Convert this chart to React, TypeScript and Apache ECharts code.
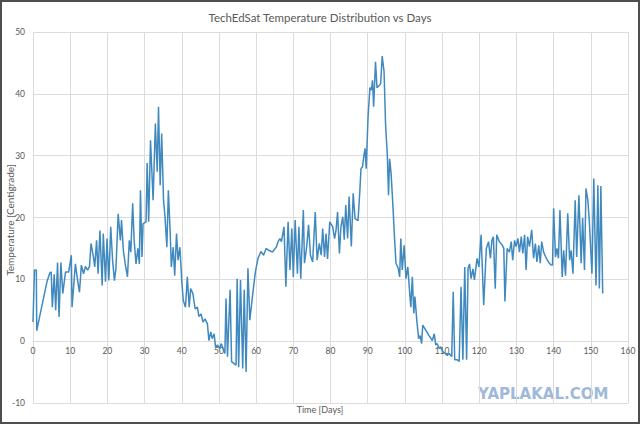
import React, { useEffect, useRef } from "react";
import * as echarts from "echarts";

const titleText = "TechEdSat Temperature Distribution vs Days";
const xAxisName = "Time [Days]";
const yAxisName = "Temperature [Centigrade]";
const watermark = "YAPLAKAL.COM";

const days: number[] = [
  0, 0.4, 0.9, 1.0, 3.75, 4.5, 4.9, 5.2, 5.7, 6.1, 6.6, 7.0, 7.5, 8.0, 8.75, 9.6, 10.3, 10.5, 11.4, 12.0,
  12.5, 13.0, 13.6, 14.1, 14.7, 15.2, 15.6, 16.25, 16.6, 17.1, 17.5, 18.0, 18.6, 18.9, 19.5, 19.9, 20.4, 20.9, 21.4, 21.9,
  22.3, 22.9, 23.5, 23.8, 24.3, 24.8, 25.4, 25.9, 26.3, 26.8, 27.2, 27.7, 28.2, 28.6, 28.9, 29.3, 29.6, 30.4, 30.7, 31.1,
  31.6, 32.3, 32.9, 33.4, 33.75, 34.2, 34.6, 35.1, 35.5, 36.0, 36.4, 36.9, 37.2, 37.7, 38.1, 38.6, 39.0, 39.5, 40.0, 40.4,
  41.0, 41.5, 42.0, 42.4, 43.0, 43.6, 44.2, 44.6, 45.2, 45.7, 46.25, 46.9, 47.3, 47.8, 48.2, 48.7, 49.1, 49.6, 50.2, 50.6,
  51.0, 51.3, 51.6, 51.9, 52.3, 53.0, 53.4, 54.0, 54.6, 54.9, 55.3, 55.8, 56.4, 56.8, 57.3, 57.8, 58.3, 59.1, 59.8, 60.5,
  61.3, 62.0, 62.7, 63.4, 64.4, 65.5, 65.9, 66.4, 66.8, 67.5, 68.0, 68.6, 69.1, 69.6, 70.0, 70.5, 71.1, 71.5, 72.0, 72.7,
  73.0, 73.6, 74.1, 74.6, 75.2, 75.9, 76.4, 77.0, 77.5, 77.9, 78.4, 78.8, 79.2, 79.8, 80.6, 81.1, 81.5, 81.9, 82.4, 82.8,
  83.3, 83.7, 84.1, 84.6, 85.0, 85.6, 86.1, 86.6, 87.4, 87.9, 88.2, 88.6, 89.0, 89.3, 89.6, 90.1, 90.6, 91.0, 91.3, 91.6,
  92.1, 92.5, 93.2, 93.5, 93.9, 94.4, 94.8, 95.3, 95.6, 95.9, 96.3, 96.8, 97.2, 97.6, 98.2, 98.6, 98.9, 99.3, 99.8, 100.3,
  100.8, 101.3, 101.6, 102.0, 102.4, 102.7, 103.2, 103.7, 104.1, 104.5, 104.8, 105.6, 106.5, 107.4, 107.9, 108.3, 108.7, 109.2, 109.6, 110.1,
  110.8, 111.4, 111.9, 112.6, 113.0, 113.4, 114.1, 114.6, 115.1, 115.6, 116.1, 116.6, 117.0, 117.4, 117.8, 118.3, 118.7, 119.4, 119.9, 120.5,
  121.2, 121.9, 122.5, 123.0, 123.4, 123.8, 124.3, 124.7, 125.4, 126.2, 126.6, 126.9, 127.5, 128.1, 128.6, 129.0, 129.5, 129.9, 130.4, 130.8,
  131.3, 131.7, 132.2, 132.6, 133.0, 133.5, 134.1, 134.6, 135.1, 135.5, 136.0, 136.4, 136.8, 137.3, 137.9, 138.6, 139.3, 139.7, 140.0, 140.5,
  140.9, 141.3, 141.7, 142.3, 142.7, 143.2, 143.8, 144.3, 144.7, 145.2, 145.8, 146.2, 146.8, 147.4, 147.8, 148.3, 148.7, 149.2, 149.6, 150.3,
  150.8, 151.4, 151.9, 152.3, 152.7, 153.2,
];

const temps: number[] = [
  3.1, 11.5, 11.5, 1.7, 9.6, 11, 11.2, 5.5, 10.8, 5, 12.7, 3.9, 12.7, 7.7, 11.2, 11.2, 13.9, 5.5, 12.5, 9.8,
  7.9, 12.3, 10.9, 12.1, 11.5, 12.1, 15.8, 13.6, 12, 16.3, 10.9, 17.9, 9, 17.4, 9.6, 16.6, 9.8, 18.5, 13.1, 9.8,
  11.7, 20.6, 16.3, 19.6, 14.7, 12.5, 10.4, 16.3, 14.4, 22.3, 16.3, 12.5, 15, 12.5, 24.4, 13.6, 19, 19.3, 28.8, 19.3,
  32.5, 22.8, 35.2, 27.4, 37.9, 25.2, 33.6, 22.8, 20.1, 15.2, 24.4, 17.4, 12, 15.2, 10.6, 17.4, 13.1, 15.2, 9.8, 6.6,
  5.5, 10.4, 5.5, 8.5, 7.7, 5.2, 5.5, 4, 4.4, 3.1, 3.6, 2.8, 0.1, 1.5, 0.4, 1.2, -1, -0.6, -1.2, -0.4,
  -1.0, -1.5, -2, 6.9, -2.5, 8.3, -3.3, -3.6, -3.9, 10.1, -4.2, 9.9, -4.4, 8.3, -5, 11.8, 3.4, 7.7, 11.2, 13.4,
  14.5, 13.9, 15, 14.7, 14.4, 15.3, 16.1, 16.6, 16.1, 18.5, 8.8, 19.3, 11.5, 18.2, 10.4, 19.6, 10.9, 18.5, 10.1, 21.2,
  12.6, 15.3, 18.8, 13.9, 12.8, 20.9, 13.1, 15.8, 13.9, 18.2, 13.6, 17.4, 13.3, 19.3, 18.5, 16.6, 18, 20.9, 14.2, 18.5,
  20.1, 16.4, 22, 16.6, 23.4, 15.3, 23.9, 19.8, 19.5, 24.4, 27.9, 28.2, 30.1, 31.2, 27.9, 36.3, 41, 40.6, 42.2, 37.9,
  45.2, 41, 41.4, 41.7, 46.1, 43.6, 35.2, 29.8, 23.6, 29.5, 27.1, 21.7, 16.9, 12.6, 11.8, 10.4, 16.6, 11.5, 15.5, 10.1,
  12, 7.7, 5.5, 10.4, 4.5, 7.2, 3.4, 0.4, 0.9, -0.4, 2.6, 1.8, 0.9, 0.1, 1.2, -0.6, -0.4, -1.2, -0.9, -1.6,
  -2, -2.3, -2.0, -2.5, 8, -3, -3, -3.3, 8.8, -3, 12, -3, 11.8, 12.5, 10.1, 11.7, 9.9, 13.4, 12, 17.2,
  5.8, 15, 16.1, 13.4, 16.3, 16.9, 8.5, 17.2, 16.1, 15.5, 15, 6.4, 15, 14.4, 16.1, 13.1, 16.3, 15.3, 16.6, 14.4,
  16.9, 14.2, 17.2, 11.5, 16.9, 15.3, 18, 13.4, 15.8, 12.8, 15.5, 12.6, 16.1, 14.4, 13.6, 12.8, 12.3, 12.3, 21.5, 13.6,
  15, 13.4, 21.2, 10.4, 14.7, 10.6, 20.7, 13.1, 14.7, 10.9, 22.8, 13.6, 23.6, 12.6, 19.9, 11.5, 24.7, 22.8, 19.4, 10.9,
  26.3, 9, 25.2, 8.5, 25.1, 7.7,
];

const xMin = 0;
const xMax = 160;
const xStep = 10;
const yMin = -10;
const yMax = 50;
const yStep = 10;

export default function App() {
  const ref = useRef<HTMLDivElement>(null);

  useEffect(() => {
    if (!ref.current) return;
    const chart = echarts.init(ref.current, undefined, { renderer: "svg" });
    const data = days.map((d, i) => [d, temps[i]]);
    const font = "Lato, 'Open Sans', sans-serif";
    const textColor = "#595959";
    const gridColor = "#dcdcdc";
    const gridTop = 32;
    const gridBottom = 21;
    const plotH = 424 - gridTop - gridBottom;
    const zeroOffset = -((0 - yMin) / (yMax - yMin)) * plotH;

    chart.setOption({
      animation: false,
      backgroundColor: "#ffffff",
      title: {
        text: titleText,
        left: "center",
        top: 6,
        textStyle: { fontFamily: font, fontSize: 11.5, fontWeight: "normal", color: textColor },
      },
      grid: {
        left: 33,
        right: 12,
        top: gridTop,
        bottom: gridBottom,
        containLabel: false,
        outerBoundsMode: "none",
      },
      xAxis: {
        type: "value",
        min: xMin,
        max: xMax,
        interval: xStep,
        position: "bottom",
        offset: zeroOffset,
        axisLine: { show: true, onZero: false, lineStyle: { color: gridColor, width: 1 } },
        axisTick: { show: false },
        axisLabel: { color: textColor, fontFamily: font, fontSize: 8.5, margin: 5 },
        splitLine: { show: true, lineStyle: { color: gridColor, width: 1 } },
      },
      yAxis: {
        type: "value",
        min: yMin,
        max: yMax,
        interval: yStep,
        axisLine: { show: false },
        axisTick: { show: false },
        axisLabel: { color: textColor, fontFamily: font, fontSize: 8.5, margin: 8 },
        splitLine: { show: true, lineStyle: { color: gridColor, width: 1 } },
      },
      series: [
        {
          type: "line",
          data,
          showSymbol: false,
          symbol: "none",
          lineStyle: { color: "#3f89bf", width: 1.5 },
        },
      ],
      graphic: [
        {
          type: "text",
          left: "center",
          top: 405,
          style: { text: xAxisName, fill: textColor, font: `9px ${font}` },
        },
        {
          type: "text",
          x: 10,
          y: 220,
          rotation: Math.PI / 2,
          style: {
            text: yAxisName,
            fill: textColor,
            font: `10px ${font}`,
            align: "center",
            verticalAlign: "middle",
          },
        },
        {
          type: "text",
          x: 478,
          y: 386,
          style: {
            text: watermark,
            fill: "#9fb9da",
            font: "bold 15px 'DejaVu Sans', sans-serif",
          },
        },
        {
          type: "rect",
          shape: { x: 1, y: 1, width: 638, height: 422 },
          style: { fill: "none", stroke: "#4d4d4d", lineWidth: 2 },
          silent: true,
        },
      ],
    });

    return () => chart.dispose();
  }, []);

  return (
    <div
      ref={ref}
      style={{ position: "fixed", left: 0, top: 0, width: 640, height: 424, background: "#fff" }}
    />
  );
}
